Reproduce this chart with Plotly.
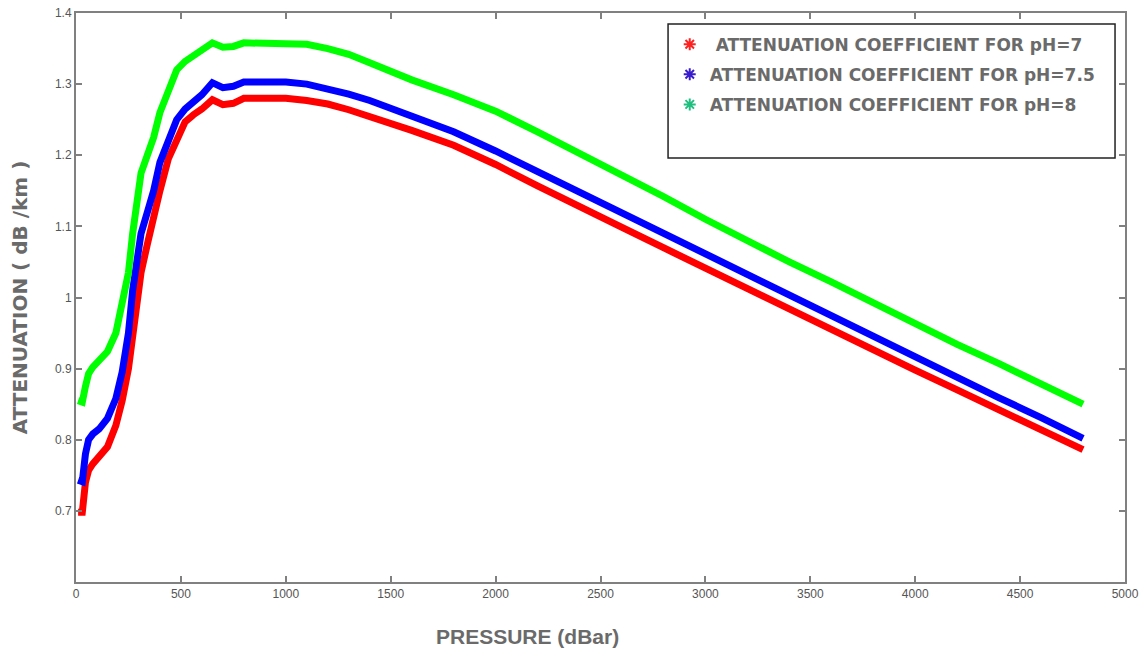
import plotly.graph_objects as go

pressure = [10, 30, 45, 60, 80, 110, 150, 190, 220, 250, 270, 290, 310, 340, 370, 400,
            440, 480, 520, 560, 600, 650, 700, 750, 800, 900, 1000, 1100, 1200, 1300,
            1400, 1500, 1600, 1800, 2000, 2200, 2400, 2600, 2800, 3000, 3200, 3400,
            3600, 3800, 4000, 4200, 4400, 4600, 4800]

att_ph7 = [0.698, 0.698, 0.740, 0.757, 0.766, 0.776, 0.790, 0.820, 0.855, 0.900, 0.945,
           0.995, 1.035, 1.075, 1.115, 1.150, 1.195, 1.220, 1.247, 1.257, 1.265, 1.278,
           1.271, 1.273, 1.280, 1.280, 1.280, 1.277, 1.272, 1.264, 1.255, 1.245, 1.235,
           1.214, 1.187, 1.157, 1.127, 1.099, 1.070, 1.041, 1.012, 0.984, 0.956, 0.927,
           0.898, 0.870, 0.842, 0.814, 0.786]

att_ph75 = [0.743, 0.741, 0.780, 0.800, 0.808, 0.815, 0.830, 0.858, 0.895, 0.950, 1.010,
            1.045, 1.090, 1.120, 1.150, 1.190, 1.220, 1.250, 1.265, 1.275, 1.285, 1.302,
            1.295, 1.297, 1.303, 1.303, 1.303, 1.300, 1.294, 1.286, 1.277, 1.266, 1.255,
            1.233, 1.206, 1.177, 1.147, 1.118, 1.090, 1.061, 1.032, 1.003, 0.975, 0.946,
            0.916, 0.888, 0.859, 0.831, 0.802]

att_ph8 = [0.855, 0.853, 0.875, 0.893, 0.902, 0.912, 0.924, 0.950, 0.993, 1.035, 1.090,
           1.130, 1.175, 1.200, 1.225, 1.260, 1.290, 1.320, 1.332, 1.340, 1.347, 1.358,
           1.352, 1.353, 1.358, 1.358, 1.357, 1.356, 1.350, 1.342, 1.330, 1.318, 1.306,
           1.285, 1.262, 1.233, 1.203, 1.172, 1.142, 1.110, 1.079, 1.050, 1.022, 0.992,
           0.962, 0.934, 0.907, 0.878, 0.850]

series_names = ["\u00a0ATTENUATION COEFFICIENT FOR pH=7",
                "ATTENUATION COEFFICIENT FOR pH=7.5",
                "ATTENUATION COEFFICIENT FOR pH=8"]
line_colors = ["#ff0000", "#0000ff", "#00ff00"]
legend_colors = ["#ff2020", "#3a1ccf", "#1fbf7f"]
x_ticks = [0, 500, 1000, 1500, 2000, 2500, 3000, 3500, 4000, 4500, 5000]
y_ticks = [0.7, 0.8, 0.9, 1.0, 1.1, 1.2, 1.3, 1.4]
y_tick_text = ["0.7", "0.8", "0.9", "1", "1.1", "1.2", "1.3", "1.4"]

fig = go.Figure()
for vals, name, lc, mc, grp in zip([att_ph7, att_ph75, att_ph8], series_names,
                                   line_colors, legend_colors, ["a", "b", "c"]):
    fig.add_trace(go.Scatter(x=pressure, y=vals, mode="lines",
                             line=dict(color=lc, width=7),
                             showlegend=False, legendgroup=grp))
    fig.add_trace(go.Scatter(x=[None], y=[None], mode="markers", name=name,
                             legendgroup=grp,
                             marker=dict(symbol="asterisk-open", size=10, color=mc,
                                         line=dict(color=mc, width=2))))

tick_font = dict(family="Liberation Sans Narrow, Liberation Sans, Arial", size=12, color="#555555")
axis_common = dict(showline=True, linecolor="#808080", linewidth=2, mirror="ticks",
                   ticks="inside", ticklen=6, tickcolor="#808080", tickwidth=1.5,
                   showgrid=False, zeroline=False, tickfont=tick_font, automargin=False)

fig.update_layout(
    width=1147, height=653,
    margin=dict(l=76, r=22, t=13, b=71),
    paper_bgcolor="white", plot_bgcolor="white",
    xaxis=dict(range=[0, 5000], tickvals=x_ticks, **axis_common),
    yaxis=dict(range=[0.6, 1.4], tickvals=y_ticks, ticktext=y_tick_text,
               title=dict(text="ATTENUATION ( dB /km )", standoff=22,
                          font=dict(family="DejaVu Sans", size=20, color="#6a6a6a",
                                    weight="bold")),
               **axis_common),
    legend=dict(x=0.566, y=0.976, xanchor="left", yanchor="top",
                bgcolor="rgba(0,0,0,0)", borderwidth=0,
                tracegroupgap=5, traceorder="grouped",
                font=dict(family="DejaVu Sans", size=17, color="#6a6a6a", weight="bold")),
    shapes=[dict(type="rect", xref="paper", yref="paper",
                 x0=0.5644, x1=0.9905, y0=0.7452, y1=0.9807,
                 line=dict(color="#222222", width=1.5), fillcolor="rgba(0,0,0,0)")],
    annotations=[dict(text="PRESSURE (dBar)", xref="paper", yref="paper",
                      x=0.43, y=-0.095, xanchor="center", yanchor="middle",
                      showarrow=False,
                      font=dict(family="Liberation Sans", size=21, color="#6a6a6a",
                                weight="bold"))],
)

fig.write_html("out.html")
